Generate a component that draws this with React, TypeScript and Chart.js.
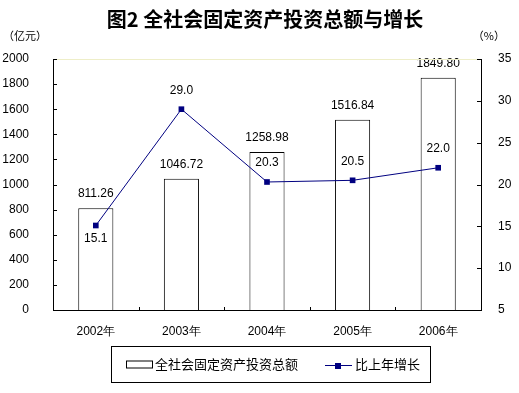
import React, { useEffect, useRef } from 'react';
import { Chart, registerables } from 'chart.js';

Chart.register(...registerables);

const titleText = '图2 全社会固定资产投资总额与增长';
const leftUnit = '（亿元）';
const rightUnit = '（%）';
const categories = ['2002年', '2003年', '2004年', '2005年', '2006年'];
const investment = [811.26, 1046.72, 1258.98, 1516.84, 1849.8];
const growth = [15.1, 29.0, 20.3, 20.5, 22.0];
const barLabel = '全社会固定资产投资总额';
const lineLabel = '比上年增长';
const growthLabelBelow = [true, false, false, false, false];

const FONT = '"Liberation Sans", Arial, sans-serif';
const CJK = '"Noto Sans CJK SC", sans-serif';
const NAVY = '#000080';

const decor = {
  id: 'decor',
  afterDatasetsDraw(chart: any) {
    const ctx = chart.ctx;
    ctx.save();
    ctx.fillStyle = '#000';
    ctx.font = '12px ' + FONT;
    ctx.textAlign = 'center';
    ctx.textBaseline = 'middle';
    const barMeta = chart.getDatasetMeta(0);
    barMeta.data.forEach((el: any, i: number) => {
      ctx.fillText(investment[i].toFixed(2), el.x, el.y - 14);
    });
    const lineMeta = chart.getDatasetMeta(1);
    lineMeta.data.forEach((el: any, i: number) => {
      const dy = growthLabelBelow[i] ? 13 : -19;
      ctx.fillText(growth[i].toFixed(1), el.x, el.y + dy);
    });
    ctx.restore();
  },
  afterDraw(chart: any) {
    const ctx = chart.ctx;
    const { left, right, top, bottom } = chart.chartArea;
    ctx.save();
    ctx.fillStyle = '#000';
    ctx.textBaseline = 'middle';
    ctx.font = 'bold 20px ' + CJK;
    ctx.textAlign = 'center';
    ctx.fillText(titleText, 265, 19);
    ctx.font = '11px ' + CJK;
    ctx.textAlign = 'left';
    ctx.fillText(leftUnit, 3, 36);
    ctx.textAlign = 'right';
    ctx.fillText(rightUnit, 505, 36);

    // faint top border
    ctx.strokeStyle = '#eeeec8';
    ctx.lineWidth = 1;
    ctx.beginPath();
    ctx.moveTo(left, Math.round(top) + 0.5);
    ctx.lineTo(right, Math.round(top) + 0.5);
    ctx.stroke();

    // inward ticks
    ctx.strokeStyle = '#000';
    const seg = (x1: number, y1: number, x2: number, y2: number) => {
      ctx.beginPath();
      ctx.moveTo(x1, y1);
      ctx.lineTo(x2, y2);
      ctx.stroke();
    };
    const ys = chart.scales.y;
    ys.ticks.forEach((t: any) => {
      const py = Math.round(ys.getPixelForValue(t.value)) + 0.5;
      seg(Math.round(left), py, Math.round(left) + 4, py);
    });
    const y1 = chart.scales.y1;
    y1.ticks.forEach((t: any) => {
      const py = Math.round(y1.getPixelForValue(t.value)) + 0.5;
      seg(Math.round(right) - 4, py, Math.round(right), py);
    });
    const xs = chart.scales.x;
    for (let i = 1; i < categories.length; i++) {
      const px = Math.round((xs.getPixelForValue(i - 1) + xs.getPixelForValue(i)) / 2) + 0.5;
      seg(px, Math.round(bottom), px, Math.round(bottom) - 3);
    }

    // legend
    const lx = 111.5, ly = 346.5, lw = 319, lh = 36;
    ctx.strokeRect(lx, ly, lw, lh);
    const cy = ly + lh / 2;
    ctx.fillStyle = '#fff';
    ctx.fillRect(126.5, cy - 3.5, 26, 7);
    ctx.strokeRect(126.5, cy - 3.5, 26, 7);
    ctx.fillStyle = '#000';
    ctx.font = '13px ' + CJK;
    ctx.textAlign = 'left';
    ctx.fillText(barLabel, 155, cy);
    ctx.strokeStyle = NAVY;
    seg(325, Math.round(cy) + 0.5, 352, Math.round(cy) + 0.5);
    ctx.fillStyle = NAVY;
    ctx.fillRect(335, Math.round(cy) - 2, 6, 6);
    ctx.fillStyle = '#000';
    ctx.fillText(lineLabel, 355, cy);
    ctx.restore();
  },
};

export default function App() {
  const ref = useRef<HTMLCanvasElement>(null);
  useEffect(() => {
    if (!ref.current) return;
    const chart = new Chart(ref.current, {
      type: 'bar',
      data: {
        labels: categories,
        datasets: [
          {
            type: 'bar',
            label: barLabel,
            data: investment,
            backgroundColor: '#ffffff',
            borderColor: '#000000',
            borderWidth: 1,
            barPercentage: 0.41,
            categoryPercentage: 1,
            yAxisID: 'y',
            order: 2,
          },
          {
            type: 'line',
            label: lineLabel,
            data: growth,
            borderColor: NAVY,
            borderWidth: 1,
            pointStyle: 'rect',
            pointRadius: 4,
            pointBorderWidth: 0,
            pointBackgroundColor: NAVY,
            yAxisID: 'y1',
            order: 1,
          } as any,
        ],
      },
      options: {
        responsive: false,
        animation: false,
        layout: { padding: { top: 59, left: 0, right: 0, bottom: 0 } },
        plugins: {
          legend: { display: false },
          title: { display: false },
          tooltip: { enabled: false },
        },
        scales: {
          x: {
            grid: { display: false },
            border: { display: true, color: '#000', width: 1 },
            ticks: { color: '#000', font: { size: 12, family: FONT }, padding: 6, maxRotation: 0 },
            afterFit: (s: any) => { s.height = 83; },
          },
          y: {
            position: 'left',
            min: 0,
            max: 2000,
            grid: { display: false },
            border: { display: true, color: '#000', width: 1 },
            ticks: {
              stepSize: 200,
              color: '#000',
              font: { size: 12, family: FONT },
              padding: 16,
              callback: (v: any) => String(v),
            },
            afterFit: (s: any) => { s.width = 53; },
          },
          y1: {
            position: 'right',
            min: 5,
            max: 35,
            grid: { display: false },
            border: { display: true, color: '#000', width: 1 },
            ticks: {
              stepSize: 5,
              color: '#000',
              font: { size: 12, family: FONT },
              padding: 9,
              callback: (v: any) => String(v),
            },
            afterFit: (s: any) => { s.width = 38; },
          },
        },
      },
      plugins: [decor],
    } as any);
    return () => chart.destroy();
  }, []);
  return (
    <div style={{ position: 'absolute', left: 0, top: 0 }}>
      <canvas ref={ref} width={519} height={393} style={{ display: 'block' }} />
    </div>
  );
}
